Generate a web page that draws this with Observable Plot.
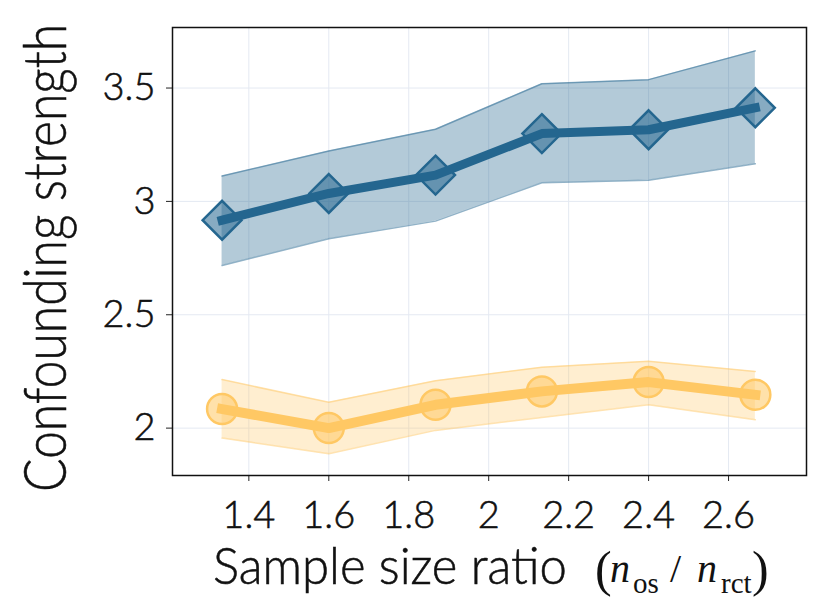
<!DOCTYPE html>
<html><head><meta charset="utf-8">
<script src="https://cdn.jsdelivr.net/npm/d3@7"></script>
<script src="https://cdn.jsdelivr.net/npm/@observablehq/plot@0.6"></script>
<style>
html,body{margin:0;padding:0;background:#fff} svg{display:block}
g[aria-label="x-axis tick label"] text, g[aria-label="y-axis tick label"] text, text.lbl {stroke:#111; stroke-width:0.55px}
</style>
</head><body><div id="chart"></div>
<script>
// ---- data ----
const ratios = [1.333, 1.6, 1.867, 2.133, 2.4, 2.667];
const blueMean  = [2.917, 3.035, 3.116, 3.299, 3.316, 3.413];
const blueUpper = [3.112, 3.222, 3.318, 3.519, 3.537, 3.664];
const blueLower = [2.717, 2.835, 2.913, 3.082, 3.093, 3.166];
const yellowMean  = [2.084, 2.000, 2.103, 2.162, 2.203, 2.147];
const yellowUpper = [2.214, 2.114, 2.209, 2.268, 2.295, 2.250];
const yellowLower = [1.956, 1.887, 1.990, 2.047, 2.103, 2.037];
const xTicks = [1.4, 1.6, 1.8, 2, 2.2, 2.4, 2.6];
const yTicks = [2, 2.5, 3, 3.5];
const xLabel = "Sample size ratio";
const yLabel = "Confounding strength";

const BLUE = "#24668f";
const YEL = "#ffc864";

const blue = ratios.map((x, i) => ({x, y: blueMean[i], lo: blueLower[i], hi: blueUpper[i]}));
const yellow = ratios.map((x, i) => ({x, y: yellowMean[i], lo: yellowLower[i], hi: yellowUpper[i]}));

const plot = Plot.plot({
  width: 830, height: 610,
  marginLeft: 172, marginRight: 24, marginTop: 27, marginBottom: 135,
  style: {fontFamily: "Lato, sans-serif", fontWeight: 300, background: "white", color: "#111", overflow: "visible"},
  x: {domain: [1.209, 2.795]},
  y: {domain: [1.791, 3.767]},
  marks: [
    Plot.gridX(xTicks, {stroke: "#e4e9f2", strokeOpacity: 1, strokeWidth: 1}),
    Plot.gridY(yTicks, {stroke: "#e4e9f2", strokeOpacity: 1, strokeWidth: 1}),
    Plot.areaY(blue, {x: "x", y1: "lo", y2: "hi", fill: BLUE, fillOpacity: 0.35}),
    Plot.line(blue, {x: "x", y: "hi", stroke: BLUE, strokeOpacity: 0.5, strokeWidth: 1.5}),
    Plot.line(blue, {x: "x", y: "lo", stroke: BLUE, strokeOpacity: 0.5, strokeWidth: 1.5}),
    Plot.areaY(yellow, {x: "x", y1: "lo", y2: "hi", fill: YEL, fillOpacity: 0.3}),
    Plot.line(yellow, {x: "x", y: "hi", stroke: YEL, strokeOpacity: 0.5, strokeWidth: 1.5}),
    Plot.line(yellow, {x: "x", y: "lo", stroke: YEL, strokeOpacity: 0.5, strokeWidth: 1.5}),
    Plot.dot(yellow, {x: "x", y: "y", r: 15, fill: YEL, fillOpacity: 0.55, stroke: YEL, strokeWidth: 2.5}),
    Plot.dot(blue, {x: "x", y: "y", symbol: "diamond2", r: 17.5, fill: BLUE, fillOpacity: 0.55, stroke: BLUE, strokeWidth: 2.5}),
    Plot.line(yellow, {x: "x", y: "y", stroke: YEL, strokeWidth: 10, strokeLinejoin: "round", strokeLinecap: "square"}),
    Plot.line(blue, {x: "x", y: "y", stroke: BLUE, strokeWidth: 9, strokeLinejoin: "round", strokeLinecap: "square"}),
    Plot.axisX(xTicks, {tickSize: 6, tickPadding: 20, fontSize: 38, label: null, tickFormat: d => String(d), stroke: "#222"}),
    Plot.axisY(yTicks, {tickSize: 6, tickPadding: 11, fontSize: 38, label: null, tickFormat: d => String(d), stroke: "#222"}),
    Plot.frame({stroke: "#111", strokeWidth: 1.5})
  ]
});
document.getElementById("chart").appendChild(plot);

const svg = d3.select(plot);

// y-axis title (condensed to the reference's length via a horizontal scale)
const yT = svg.append("text")
  .attr("class", "lbl")
  .attr("text-anchor", "middle")
  .attr("font-family", "Lato, sans-serif")
  .attr("font-weight", 300)
  .attr("font-size", 60)
  .attr("fill", "#111")
  .text(yLabel);
const yLen = yT.node().getComputedTextLength() || 468;
yT.attr("transform", `translate(66,258) rotate(-90) scale(${468 / yLen},1)`);

// x-axis title
const xT = svg.append("text")
  .attr("class", "lbl")
  .attr("text-anchor", "start")
  .attr("font-family", "Lato, sans-serif")
  .attr("font-weight", 300)
  .attr("font-size", 52)
  .attr("fill", "#111")
  .text(xLabel);
const xLen = xT.node().getComputedTextLength() || 354;
xT.attr("transform", `translate(213,584) scale(${354 / xLen},1)`);

// math part: (n_os / n_rct)
const serif = "'Liberation Serif', 'DejaVu Serif', serif";
const m = svg.append("g").attr("font-family", serif).attr("fill", "#111").attr("text-anchor", "start").attr("font-weight", 400);
const part = (x, y, size, txt, italic) => m.append("text").attr("x", x).attr("y", y).attr("font-size", size).attr("font-style", italic ? "italic" : "normal").text(txt);
part(595, 586, 50, "(");
part(610, 582, 40, "n", true);
part(633, 593, 29, "os");
part(670, 582, 40, "/");
part(697, 582, 40, "n", true);
part(721, 593, 29, "rct");
part(752, 586, 50, ")");
</script>
</body></html>
